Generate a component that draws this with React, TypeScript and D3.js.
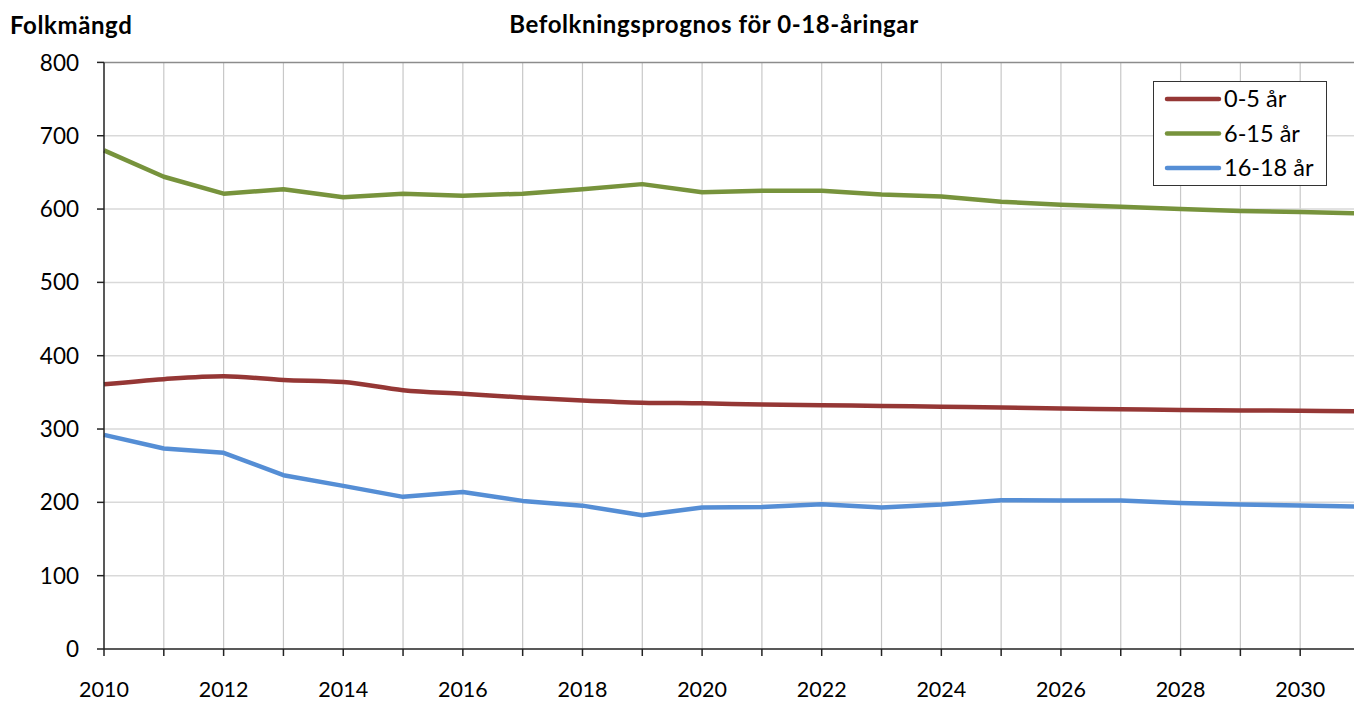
import React from "react";
import * as d3 from "d3";

const years = [2010, 2011, 2012, 2013, 2014, 2015, 2016, 2017, 2018, 2019, 2020, 2021, 2022, 2023, 2024, 2025, 2026, 2027, 2028, 2029, 2030, 2031];
const age0to5 = [361, 368, 372, 367, 364, 353, 348, 343, 339, 336, 335, 333.5, 332.5, 331.5, 330.5, 329.5, 328, 327, 326, 325.4, 324.8, 324];
const age6to15 = [680, 644, 621, 627, 616, 621, 618, 621, 627, 634, 623, 625, 625, 620, 617, 610, 606, 603, 600, 597.5, 596, 594];
const age16to18 = [292, 273.5, 267.5, 237, 222.5, 207.5, 214, 202, 195.5, 182.5, 193, 193.5, 197.5, 193, 197, 203, 202.6, 202.6, 199, 197, 195.8, 194];
const yTicks = [0, 100, 200, 300, 400, 500, 600, 700, 800];
const xLabelYears = [2010, 2012, 2014, 2016, 2018, 2020, 2022, 2024, 2026, 2028, 2030];

const seriesNames = ["0-5 år", "6-15 år", "16-18 år"];
const seriesColors = ["#953735", "#77933C", "#558ED5"];

export default function App() {
  const W = 1354, H = 702;
  const x = d3.scaleLinear().domain([2010, 2031]).range([104, 1360]);
  const y = d3.scaleLinear().domain([0, 800]).range([649, 62.4]);
  const font = "Lato, 'Open Sans', sans-serif";

  const data = [age0to5, age6to15, age16to18];
  const curves = [d3.curveMonotoneX, d3.curveLinear, d3.curveLinear];

  return (
    <svg width={W} height={H} style={{ position: "absolute", left: 0, top: 0, background: "#fff" }} fontFamily={font}>
      <rect x={0} y={0} width={W} height={H} fill="#fff" />
      {years.slice(1).map((yr) => (
        <line key={"vx" + yr} x1={x(yr)} x2={x(yr)} y1={y(800)} y2={y(0)} stroke="#c8c8c8" strokeWidth={1.2} />
      ))}
      {yTicks.slice(1).map((t) => (
        <line key={"hy" + t} x1={x(2010)} x2={x(2031)} y1={y(t)} y2={y(t)} stroke={t === 800 ? "#8c8c8c" : "#d9d9d9"} strokeWidth={1.5} />
      ))}
      {data.map((vals, i) => {
        const line = d3
          .line<number>()
          .x((_, j) => x(years[j]))
          .y((v) => y(v))
          .curve(curves[i]);
        return (
          <path key={"s" + i} d={line(vals) || ""} fill="none" stroke={seriesColors[i]} strokeWidth={4.5} strokeLinejoin="round" />
        );
      })}
      <line x1={x(2010)} x2={x(2010)} y1={y(800)} y2={y(0)} stroke="#222" strokeWidth={1.5} />
      <line x1={x(2010)} x2={x(2031)} y1={y(0)} y2={y(0)} stroke="#222" strokeWidth={1.5} />
      {yTicks.map((t) => (
        <g key={"yt" + t}>
          <line x1={x(2010) - 7} x2={x(2010)} y1={y(t)} y2={y(t)} stroke="#222" strokeWidth={1.5} />
          <text x={79} y={y(t)} dy="0.36em" textAnchor="end" fontSize={22.5} fill="#000">
            {t}
          </text>
        </g>
      ))}
      {years.map((yr) => (
        <line key={"xt" + yr} x1={x(yr)} x2={x(yr)} y1={y(0)} y2={y(0) + 7} stroke="#222" strokeWidth={1.5} />
      ))}
      {xLabelYears.map((yr) => (
        <text key={"xl" + yr} x={x(yr)} y={697} textAnchor="middle" fontSize={21.5} fill="#000">
          {yr}
        </text>
      ))}
      <text x={714} y={33} textAnchor="middle" fontSize={24} fontWeight="bold" letterSpacing={0.6} fill="#000">
        Befolkningsprognos för 0-18-åringar
      </text>
      <text x={10} y={34} fontSize={24} fontWeight="bold" letterSpacing={0.6} fill="#000">
        Folkmängd
      </text>
      <rect x={1153.5} y={81.5} width={173} height={104} fill="#fff" stroke="#333" strokeWidth={1} />
      {seriesNames.map((n, i) => (
        <g key={"lg" + i}>
          <line x1={1167} x2={1219} y1={99 + i * 34.5} y2={99 + i * 34.5} stroke={seriesColors[i]} strokeWidth={4.5} strokeLinecap="round" />
          <text x={1224} y={99 + i * 34.5} dy="0.36em" fontSize={23.5} fill="#000">
            {n}
          </text>
        </g>
      ))}
    </svg>
  );
}
